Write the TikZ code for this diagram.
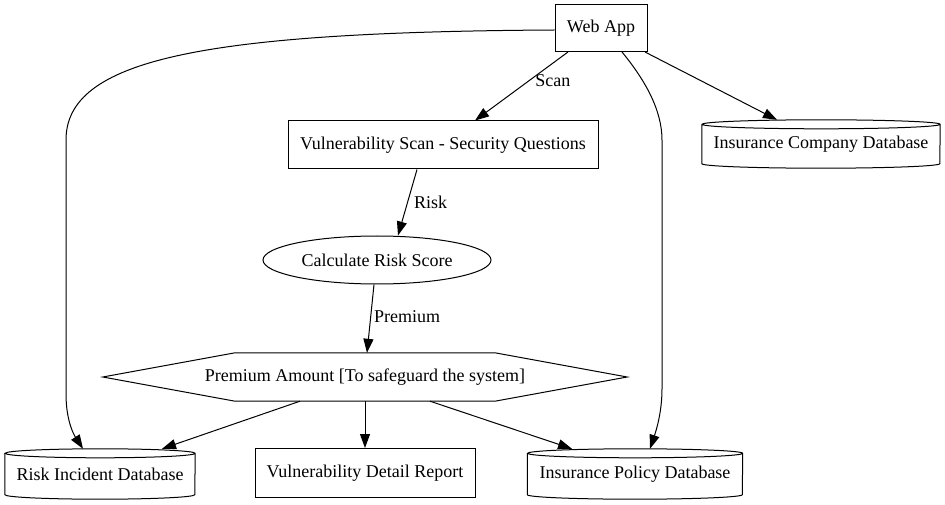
\documentclass[tikz,border=0pt]{standalone}
\usepackage{fontspec}
\setmainfont{Liberation Serif}
\newfontfamily\dotfont{Liberation Serif}
\usetikzlibrary{arrows.meta,shapes.geometric}
\newcommand\drawcyl[3]{%
  \draw[line width=1pt] ([yshift=-#3pt]#1.north west) -- ([yshift=#3pt]#1.south west)
    arc[start angle=180,end angle=360,x radius=#2pt,y radius=#3pt]
    -- ([yshift=-#3pt]#1.north east)
    arc[start angle=0,end angle=180,x radius=#2pt,y radius=#3pt]
    arc[start angle=180,end angle=360,x radius=#2pt,y radius=#3pt];}
\begin{document}
\begin{tikzpicture}[x=1pt,y=1pt,
  every node/.style={font=\dotfont\fontsize{18}{21}\selectfont, inner sep=0pt},
  box/.style={draw, line width=1pt, rectangle},
  cyl/.style={rectangle},
  edge/.style={line width=1pt, -{Triangle[length=14pt,width=10pt]}},
  lbl/.style={font=\dotfont\fontsize{18}{21}\selectfont}]
\useasboundingbox (0,0) rectangle (945,504);
\node[box, minimum width=92, minimum height=47] (web) at (601,476) {Web App};
\node[box, minimum width=310, minimum height=48] (vscan) at (443,359) {Vulnerability Scan - Security Questions};
\node[cyl, minimum width=238, minimum height=48] (icdb) at (821,360) {Insurance Company Database};
\drawcyl{icdb}{119}{4.5}
\node[ellipse, draw, line width=1pt, minimum width=228, minimum height=48] (calc) at (377,244) {Calculate Risk Score};
\node[rectangle, minimum width=524, minimum height=48] (prem) at (365,127) {Premium Amount [To safeguard the system]};
\draw[line width=1pt] (prem.west) -- ([xshift=-130]prem.north) -- ([xshift=130]prem.north) -- (prem.east) -- ([xshift=130]prem.south) -- ([xshift=-130]prem.south) -- cycle;
\node[cyl, minimum width=190, minimum height=50] (ridb) at (100,30) {Risk Incident Database};
\drawcyl{ridb}{95}{4.5}
\node[box, minimum width=220, minimum height=49] (vdr) at (365,31) {Vulnerability Detail Report};
\node[cyl, minimum width=215, minimum height=50] (ipdb) at (635,30) {Insurance Policy Database};
\drawcyl{ipdb}{107.5}{4.5}
% edges
\draw[edge] ([xshift=-33]web.south) -- node[lbl, pos=0.42, right=6pt] (lscan) {Scan} ([xshift=32]vscan.north);
\draw[edge] ([xshift=44]web.south) -- ([xshift=-44]icdb.north);
\draw[edge] ([yshift=-2]web.west) .. controls (200,472) and (66,444) .. (66,364) -- (66,110) .. controls (66,80) and (76,66) .. ([xshift=-17]ridb.north);
\draw[edge] ([xshift=21]web.south) .. controls (645,424) and (662,394) .. (662,364) -- (662,115) .. controls (662,90) and (655,70) .. ([xshift=15]ipdb.north);
\draw[edge] ([xshift=-26]vscan.south) -- node[lbl, pos=0.5, right=6pt] (lrisk) {Risk} ([xshift=21]calc.north);
\draw[edge] ([xshift=-3]calc.south) -- node[lbl, pos=0.47, right=3pt] (lprem) {Premium} ([xshift=2]prem.north);
\draw[edge] ([xshift=-65]prem.south) -- ([xshift=62]ridb.north);
\draw[edge] (prem.south) -- (vdr.north);
\draw[edge] ([xshift=65]prem.south) -- ([xshift=-63]ipdb.north);
\end{tikzpicture}
\end{document}
